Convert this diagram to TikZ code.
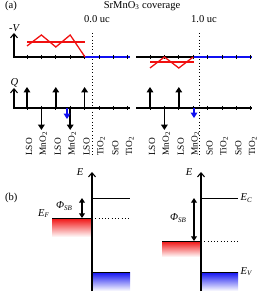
\documentclass[tikz,border=0pt]{standalone}
\usepackage{fontspec}
\setmainfont{Liberation Serif}
\usetikzlibrary{arrows.meta,positioning,calc}
\definecolor{PotRed}{HTML}{F01010}
\definecolor{PotBlue}{HTML}{1010F0}

\begin{document}
\begin{tikzpicture}[x=0.03cm,y=-0.03cm,
      font=\fontsize{9}{10}\selectfont,
      axis/.style={line width=1pt},
      axarrow/.style={-{Straight Barb[length=3.5pt,width=6pt]},line width=0.9pt},
      charge/.style={-{Triangle[length=4.5pt,width=5.5pt]},line width=1.5pt},
      tickmark/.style={line width=0.7pt},
      layer/.style={rotate=90,anchor=west,inner sep=0pt,font=\fontsize{8}{8}\selectfont},
      potential/.style={PotRed,line width=1.1pt},
      surface/.style={PotBlue,line width=1.1pt},
      boundary/.style={dotted,line width=0.8pt},
      band/.style={line width=0.8pt},
      barrier/.style={{Triangle[length=4pt,width=5pt]}-{Triangle[length=4pt,width=5pt]},line width=1.2pt},
      sym/.style={font=\fontsize{9}{10}\selectfont\itshape,inner sep=1pt}
    ]
      \useasboundingbox (0,0) rectangle (257,293);
      \node[anchor=west] (taga) at (1,6) {(a)};
      \node (cov) at (142,6) {SrMnO\textsubscript{3} coverage};
      \node (ucl) at (97,19) {0.0 uc};
      \node (ucr) at (204,19) {1.0 uc};
      \draw[boundary] (92,33) -- (92,156);
      \draw[boundary] (199,33) -- (199,156);
      % potential axes
      \coordinate (vl) at (14,57);
      \coordinate (ql) at (14,108);
      \draw[axarrow] ($(vl)+(0,1)$) -- (14,33) node[sym,above=0pt] (mvl) {-V};
      \draw[axarrow] ($(ql)+(0,1)$) -- (14,88) node[sym,above left=-1pt and -5pt] (qlab) {Q};
      \draw[axis] (vl) -- (85,57);
      \draw[surface] (85,57) -- (130,57);
      \draw[axis] (ql) -- (130,108);
      \draw[axis] (136,57) -- (194,57);
      \draw[surface] (194,57) -- (252,57);
      \draw[axis] (136,108) -- (252,108);
      \foreach \i in {0,...,7} {
        \draw[tickmark] ({27+14.4*\i},55) -- ++(0,4);
        \draw[tickmark] ({27+14.4*\i},106) -- ++(0,4);
        \draw[tickmark] ({150+14.4*\i},55) -- ++(0,4);
        \draw[tickmark] ({150+14.4*\i},106) -- ++(0,4);
      }
      \draw[potential] (27,42) -- (85,42);
      \draw[potential] (27,46) -- (41.4,35) -- (55.8,47) -- (70.2,35) -- (85,57);
      \draw[potential] (150,62) -- (194,62);
      \draw[potential] (150,68) -- (164.4,57) -- (178.8,68) -- (193.2,57);
      % charges
      \foreach \x in {27,55.8,84.6,150,178.8}
        \draw[charge] (\x,108) -- (\x,87);
      \foreach \x in {41.4,70.2,164.4}
        \draw[charge] (\x,108) -- (\x,130);
      \draw[charge,PotBlue,line width=1.1pt] (67,108) -- (67,119);
      \draw[charge,PotBlue,line width=1.1pt] (194,108) -- (194,118);
      \foreach \t [count=\i from 0] in {LSO,MnO\textsubscript{2},LSO,MnO\textsubscript{2},LSO,TiO\textsubscript{2},SrO,TiO\textsubscript{2}}
        \node[layer] (ll\i) at ({29+14.4*\i},156) {\t};
      \foreach \t [count=\i from 0] in {LSO,MnO\textsubscript{2},LSO,MnO\textsubscript{2},SrO,TiO\textsubscript{2},SrO,TiO\textsubscript{2}}
        \node[layer] (lr\i) at ({152+14.4*\i},156) {\t};
      % band diagrams
      \node[anchor=west] (tagb) at (1,198) {(b)};
      \shade[top color=PotRed,bottom color=white] (52,218) rectangle (92,237);
      \shade[top color=PotBlue,bottom color=white] (92,272) rectangle (130,291);
      \shade[top color=PotRed,bottom color=white] (162,241) rectangle (201,257);
      \shade[top color=PotBlue,bottom color=white] (201,272) rectangle (238,291);
      \coordinate (ecl) at (130,198);
      \coordinate (efl) at (52,218);
      \coordinate (ecr) at (238,198);
      \coordinate (efr) at (162,241);
      \coordinate (evr) at (238,272);
      \draw[band] (92,198) -- (ecl);
      \draw[band] (efl) -- (92,218);
      \draw[boundary] (92,218) -- (130,218);
      \draw[band] (92,272) -- (130,272);
      \draw[band] (201,198) -- (ecr);
      \draw[band] (efr) -- (201,241);
      \draw[boundary] (201,241) -- (240,241);
      \draw[band] (201,272) -- (evr);
      \draw[axarrow] (92,291) -- (92,172) node[sym,left=6pt] (el) {E};
      \draw[axarrow] (201,291) -- (201,172) node[sym,left=6pt] (er) {E};
      \node[sym,left=1pt of efl,yshift=4pt] (efll) {E\textsubscript{F}};
      \node[sym,right=1pt of ecr] (ecrl) {E\textsubscript{C}};
      \node[sym,right=1pt of evr] (evrl) {E\textsubscript{V}};
      \draw[barrier] (82,198) -- (82,218);
      \draw[barrier] (194,198) -- (194,241);
      \node[sym,anchor=east] (phil) at (74,206) {Φ\textsubscript{SB}};
      \node[sym,anchor=east] (phir) at (188,218) {Φ\textsubscript{SB}};
    \end{tikzpicture}
\end{document}
